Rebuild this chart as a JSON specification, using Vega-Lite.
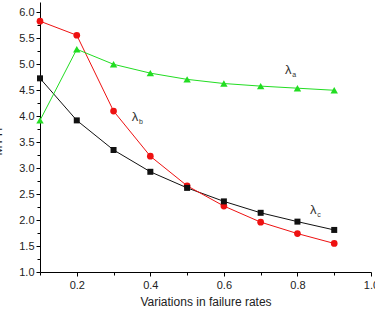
{
  "$schema": "https://vega.github.io/schema/vega-lite/v6.json",
  "width": 331,
  "height": 270,
  "autosize": {"type": "none"},
  "padding": {"left": 40, "top": 2, "right": 4, "bottom": 40},
  "background": "white",
  "config": {
    "view": {"stroke": null},
    "font": "Liberation Sans",
    "axis": {"grid": false, "domainColor": "black", "tickColor": "black", "labelColor": "#222", "titleColor": "#222", "labelFont": "Liberation Sans", "titleFont": "Liberation Sans", "titleFontWeight": "normal"}
  },
  "datasets": {
    "series": [
      {"rate": 0.1, "mttf": 4.73, "series": "c"},
      {"rate": 0.2, "mttf": 3.92, "series": "c"},
      {"rate": 0.3, "mttf": 3.35, "series": "c"},
      {"rate": 0.4, "mttf": 2.93, "series": "c"},
      {"rate": 0.5, "mttf": 2.62, "series": "c"},
      {"rate": 0.6, "mttf": 2.36, "series": "c"},
      {"rate": 0.7, "mttf": 2.14, "series": "c"},
      {"rate": 0.8, "mttf": 1.97, "series": "c"},
      {"rate": 0.9, "mttf": 1.81, "series": "c"},
      {"rate": 0.1, "mttf": 5.83, "series": "b"},
      {"rate": 0.2, "mttf": 5.56, "series": "b"},
      {"rate": 0.3, "mttf": 4.1, "series": "b"},
      {"rate": 0.4, "mttf": 3.23, "series": "b"},
      {"rate": 0.5, "mttf": 2.66, "series": "b"},
      {"rate": 0.6, "mttf": 2.27, "series": "b"},
      {"rate": 0.7, "mttf": 1.96, "series": "b"},
      {"rate": 0.8, "mttf": 1.74, "series": "b"},
      {"rate": 0.9, "mttf": 1.55, "series": "b"},
      {"rate": 0.1, "mttf": 3.92, "series": "a"},
      {"rate": 0.2, "mttf": 5.29, "series": "a"},
      {"rate": 0.3, "mttf": 5.0, "series": "a"},
      {"rate": 0.4, "mttf": 4.83, "series": "a"},
      {"rate": 0.5, "mttf": 4.71, "series": "a"},
      {"rate": 0.6, "mttf": 4.63, "series": "a"},
      {"rate": 0.7, "mttf": 4.58, "series": "a"},
      {"rate": 0.8, "mttf": 4.54, "series": "a"},
      {"rate": 0.9, "mttf": 4.5, "series": "a"}
    ],
    "labels": [
      {"rate": 0.775, "mttf": 4.9, "sub": "a"},
      {"rate": 0.358, "mttf": 3.98, "sub": "b"},
      {"rate": 0.843, "mttf": 2.2, "sub": "c"}
    ]
  },
  "encoding": {
    "x": {"field": "rate", "type": "quantitative",
      "scale": {"domain": [0.1, 1.0], "nice": false, "zero": false},
      "axis": {"title": "Variations in failure rates", "titleFontSize": 12, "titlePadding": 6, "labelFontSize": 11, "labelPadding": 3,
        "values": [0.1, 0.2, 0.3, 0.4, 0.5, 0.6, 0.7, 0.8, 0.9, 1.0],
        "labelExpr": "(round(datum.value * 10) % 2 == 0) ? format(datum.value, '.1f') : ''",
        "tickSize": {"condition": {"test": "round(datum.value * 10) % 2 == 0", "value": 4}, "value": 3},
        "labelOverlap": false, "labelFlush": false}},
    "y": {"field": "mttf", "type": "quantitative",
      "scale": {"domain": [1.0, 6.2], "nice": false, "zero": false},
      "axis": {"title": "MTTF", "titleFontSize": 12, "titleX": -36, "titleY": 137, "labelFontSize": 11, "labelPadding": 2,
        "values": [1.0, 1.25, 1.5, 1.75, 2.0, 2.25, 2.5, 2.75, 3.0, 3.25, 3.5, 3.75, 4.0, 4.25, 4.5, 4.75, 5.0, 5.25, 5.5, 5.75, 6.0],
        "labelExpr": "(round(datum.value * 4) % 2 == 0) ? format(datum.value, '.1f') : ''",
        "tickSize": {"condition": {"test": "round(datum.value * 4) % 2 == 0", "value": 4}, "value": 3},
        "labelOverlap": false, "labelFlush": false}}
  },
  "layer": [
    {
      "data": {"name": "series"},
      "mark": {"type": "line", "strokeWidth": 1},
      "encoding": {
        "color": {"field": "series", "type": "nominal", "legend": null,
          "scale": {"domain": ["a", "b", "c"], "range": ["#22dd22", "#ee1111", "#111111"]}}
      }
    },
    {
      "data": {"name": "series"},
      "transform": [{"filter": "datum.series == 'a'"}],
      "mark": {"type": "point", "shape": "triangle-up", "filled": true, "opacity": 1, "size": 55, "color": "#22dd22"}
    },
    {
      "data": {"name": "series"},
      "transform": [{"filter": "datum.series == 'b'"}],
      "mark": {"type": "point", "shape": "circle", "filled": true, "opacity": 1, "size": 45, "color": "#ee1111"}
    },
    {
      "data": {"name": "series"},
      "transform": [{"filter": "datum.series == 'c'"}],
      "mark": {"type": "point", "shape": "square", "filled": true, "opacity": 1, "size": 36, "color": "#111111"}
    },
    {
      "data": {"name": "labels"},
      "mark": {"type": "text", "text": "λ", "fontSize": 13, "color": "#333", "align": "center", "baseline": "middle"}
    },
    {
      "data": {"name": "labels"},
      "mark": {"type": "text", "fontSize": 7, "color": "#333", "align": "left", "baseline": "middle", "dx": 4, "dy": 5},
      "encoding": {"text": {"field": "sub"}}
    }
  ]
}
